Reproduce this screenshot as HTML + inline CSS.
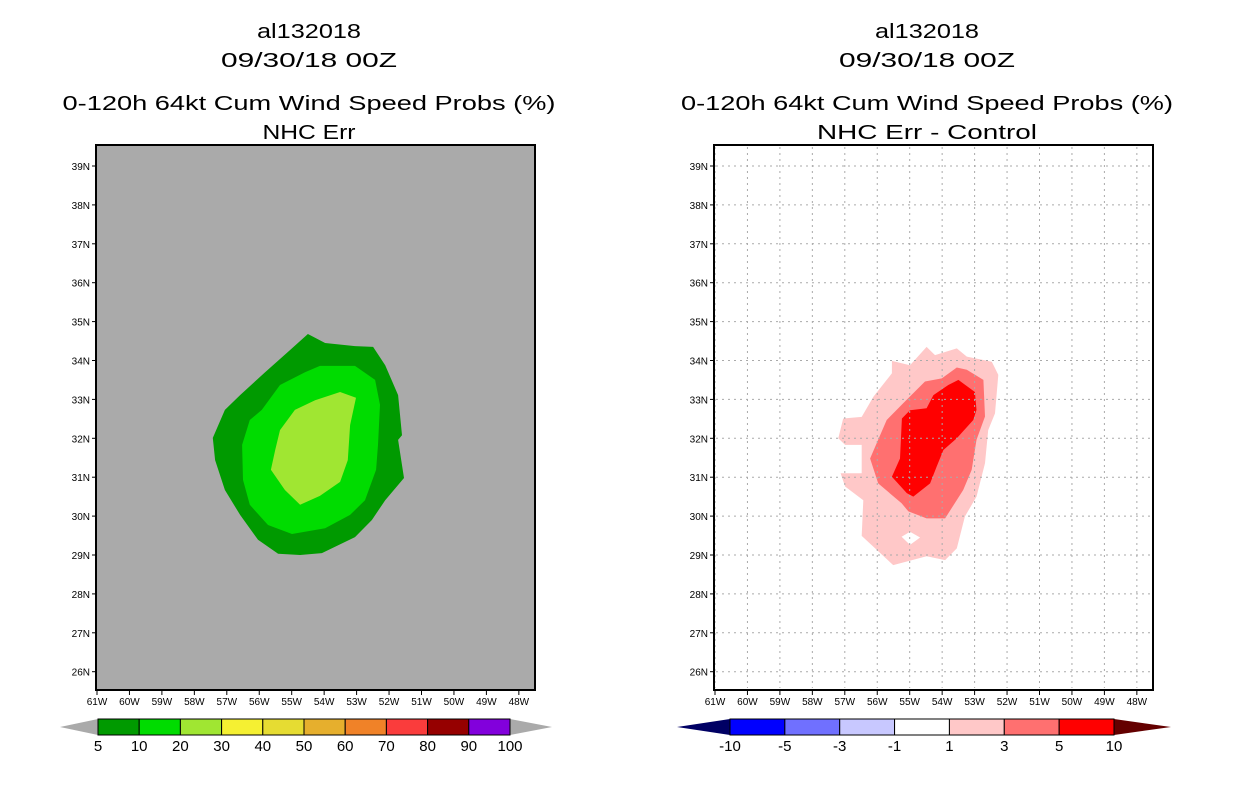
<!DOCTYPE html>
<html><head><meta charset="utf-8"><style>
html,body{margin:0;padding:0;background:#fff;width:1236px;height:800px;overflow:hidden}
svg{display:block;font-family:"Liberation Sans",sans-serif}
</style></head><body>
<svg id="chart" width="1236" height="800" viewBox="0 0 1236 800" xmlns="http://www.w3.org/2000/svg">
<g font-size="20" text-anchor="middle" fill="#000">
<text x="309" y="38" textLength="104" lengthAdjust="spacingAndGlyphs">al132018</text>
<text x="309" y="67" textLength="176" lengthAdjust="spacingAndGlyphs">09/30/18 00Z</text>
<text x="309" y="110" textLength="493" lengthAdjust="spacingAndGlyphs">0-120h 64kt Cum Wind Speed Probs (%)</text>
<text x="309" y="139" textLength="93" lengthAdjust="spacingAndGlyphs">NHC Err</text>
</g>
<g font-size="20" text-anchor="middle" fill="#000">
<text x="927" y="38" textLength="104" lengthAdjust="spacingAndGlyphs">al132018</text>
<text x="927" y="67" textLength="176" lengthAdjust="spacingAndGlyphs">09/30/18 00Z</text>
<text x="927" y="110" textLength="492" lengthAdjust="spacingAndGlyphs">0-120h 64kt Cum Wind Speed Probs (%)</text>
<text x="927" y="139" textLength="220" lengthAdjust="spacingAndGlyphs">NHC Err - Control</text>
</g>
<g id="left"></g>
<g id="right"></g>
<g id="cbars"></g>
</svg>
<script>
const NS="http://www.w3.org/2000/svg";
const lonTicks=[-61,-60,-59,-58,-57,-56,-55,-54,-53,-52,-51,-50,-49,-48];
const latTicks=[26,27,28,29,30,31,32,33,34,35,36,37,38,39];
const leftLevels=["5","10","20","30","40","50","60","70","80","90","100"];
const leftColors=["#009a00","#00dc00","#a0e632","#f5f032","#e6dc32","#e6af2d","#f08228","#fa3c3c","#960000","#8200dc"];
const rightLevels=["-10","-5","-3","-1","1","3","5","10"];
const rightColors=["#0000ff","#7070ff","#c8c8ff","#ffffff","#ffc8c8","#ff7070","#ff0000"];
const nhc5=[[-54.50,34.68],[-53.97,34.45],[-53.05,34.37],[-52.49,34.35],[-52.12,33.88],[-51.72,33.11],[-51.60,32.08],[-51.72,31.96],[-51.54,30.98],[-52.12,30.41],[-52.53,29.90],[-53.05,29.46],[-54.07,29.05],[-54.74,29.00],[-55.42,29.03],[-56.04,29.39],[-56.59,30.03],[-57.06,30.67],[-57.36,31.44],[-57.43,32.01],[-57.06,32.73],[-56.59,33.11],[-55.82,33.70],[-55.05,34.27]];
const nhc10=[[-54.59,33.70],[-54.13,33.86],[-53.05,33.86],[-52.43,33.50],[-52.28,32.86],[-52.34,31.83],[-52.40,31.19],[-52.74,30.41],[-53.20,30.03],[-53.97,29.69],[-54.99,29.54],[-55.73,29.77],[-56.29,30.29],[-56.50,30.93],[-56.53,31.83],[-56.29,32.47],[-55.92,32.73],[-55.36,33.37]];
const nhc20=[[-53.51,33.19],[-53.02,33.04],[-53.20,32.34],[-53.27,31.44],[-53.51,30.88],[-54.13,30.52],[-54.74,30.29],[-55.21,30.67],[-55.64,31.19],[-55.51,31.70],[-55.36,32.21],[-54.90,32.73],[-54.28,32.98]];
const diff1=[[-54.48,34.35],[-54.22,34.14],[-53.55,34.31],[-53.24,34.10],[-52.47,33.97],[-52.27,33.63],[-52.37,32.64],[-52.58,32.21],[-52.68,31.36],[-52.94,30.50],[-53.30,29.99],[-53.55,29.17],[-53.91,28.87],[-54.48,28.97],[-55.51,28.74],[-56.48,29.49],[-56.43,30.41],[-56.99,30.76],[-57.13,31.10],[-56.48,31.10],[-56.48,31.83],[-56.99,31.83],[-57.20,32.00],[-57.05,32.51],[-56.48,32.55],[-56.12,33.07],[-55.55,33.67],[-55.55,33.99],[-54.99,33.88]];
const diffHole=[[-55.25,29.47],[-54.99,29.60],[-54.68,29.45],[-54.99,29.26]];
const diff3=[[-54.01,33.54],[-53.55,33.82],[-53.24,33.76],[-52.73,33.50],[-52.68,32.56],[-52.94,31.96],[-53.09,31.19],[-53.35,30.67],[-53.91,29.94],[-54.48,29.94],[-55.04,30.12],[-55.25,30.33],[-55.97,30.84],[-56.22,31.48],[-56.02,31.87],[-55.71,32.47],[-55.20,32.90],[-54.53,33.46]];
const diff5=[[-53.50,33.50],[-52.99,33.19],[-52.94,32.73],[-53.04,32.47],[-53.55,32.00],[-53.96,31.70],[-54.17,31.27],[-54.37,30.84],[-54.89,30.50],[-55.09,30.59],[-55.55,31.01],[-55.30,31.48],[-55.24,32.51],[-54.99,32.72],[-54.48,32.77],[-54.27,33.11],[-53.81,33.37]];

function mk(tag,attrs,parent){const e=document.createElementNS(NS,tag);for(const k in attrs)e.setAttribute(k,attrs[k]);parent.appendChild(e);return e;}
function xs(x0){return lon=>x0+(lon+61)*32.45;}
function ys(lat){return 166+(39-lat)*38.9;}
function pts(arr,X){return arr.map(p=>X(p[0]).toFixed(1)+","+ys(p[1]).toFixed(1)).join(" ");}

function drawMap(g,x0,frameX,bg,grid,polys,pref){
  const X=xs(x0);
  const bgR=mk("rect",{x:frameX,y:145,width:439,height:545,fill:bg},g);
  
  
  polys.forEach(p=>{
    const e=mk("polygon",{points:pts(p.d,X),fill:p.c},g);
    
    
  });
  if(grid){
    lonTicks.forEach(l=>{const e=mk("line",{x1:X(l),x2:X(l),y1:147,y2:688,stroke:"#aaa","stroke-width":1,"stroke-dasharray":"2,4"},g);
      
      });
    latTicks.forEach(l=>{const e=mk("line",{x1:frameX+2,x2:frameX+437,y1:ys(l),y2:ys(l),stroke:"#aaa","stroke-width":1,"stroke-dasharray":"2,4"},g);
      
      });
  }
  const fr=mk("rect",{x:frameX,y:145,width:439,height:545,fill:"none",stroke:"#000","stroke-width":2},g);
  
  
  lonTicks.forEach(l=>{
    mk("line",{x1:X(l),x2:X(l),y1:690,y2:695,stroke:"#000"},g);
    const t=mk("text",{x:X(l),y:705,"font-size":10,"text-anchor":"middle"},g);
    t.textContent=(-l)+"W";
    
    
  });
  latTicks.forEach(l=>{
    mk("line",{x1:frameX-4,x2:frameX,y1:ys(l),y2:ys(l),stroke:"#000"},g);
    const t=mk("text",{x:frameX-6,y:ys(l)+4,"font-size":10,"text-anchor":"end"},g);
    t.textContent=l+"N";
    
    
  });
}
drawMap(document.getElementById("left"),97,96,"#aaaaaa",false,[
  {d:nhc5,c:leftColors[0],n:"contour-5-10"},{d:nhc10,c:leftColors[1],n:"contour-10-20"},{d:nhc20,c:leftColors[2],n:"contour-20-30"}],"left");
drawMap(document.getElementById("right"),715,714,"#ffffff",true,[
  {d:diff1,c:rightColors[4],n:"contour-1-3"},{d:diffHole,c:"#ffffff",n:"contour-hole"},{d:diff3,c:rightColors[5],n:"contour-3-5"},{d:diff5,c:rightColors[6],n:"contour-5-10"}],"right");

function colorbar(g,x0,x1,tl,tr,colors,levels,lcol,rcol,pref){
  const y=719,h=16,w=(x1-x0)/colors.length;
  const a=mk("polygon",{points:`${tl},${y+h/2} ${x0},${y} ${x0},${y+h}`,fill:lcol},g);
  
  
  const b=mk("polygon",{points:`${tr},${y+h/2} ${x1},${y} ${x1},${y+h}`,fill:rcol},g);
  
  
  colors.forEach((c,i)=>{
    const r=mk("rect",{x:x0+i*w,y:y,width:w,height:h,fill:c,stroke:"#000","stroke-width":1},g);
    
    
  });
  levels.forEach((l,i)=>{
    const t=mk("text",{x:x0+i*w,y:751,"font-size":15,"text-anchor":"middle"},g);
    t.textContent=l;
    
    
  });
}
const cb=document.getElementById("cbars");
colorbar(cb,98,510,60,552,leftColors,leftLevels,"#aaaaaa","#aaaaaa","left");
colorbar(cb,730,1114,677,1171,rightColors.slice(0,7),rightLevels,"#000064","#640000","right");
</script>
</body></html>
